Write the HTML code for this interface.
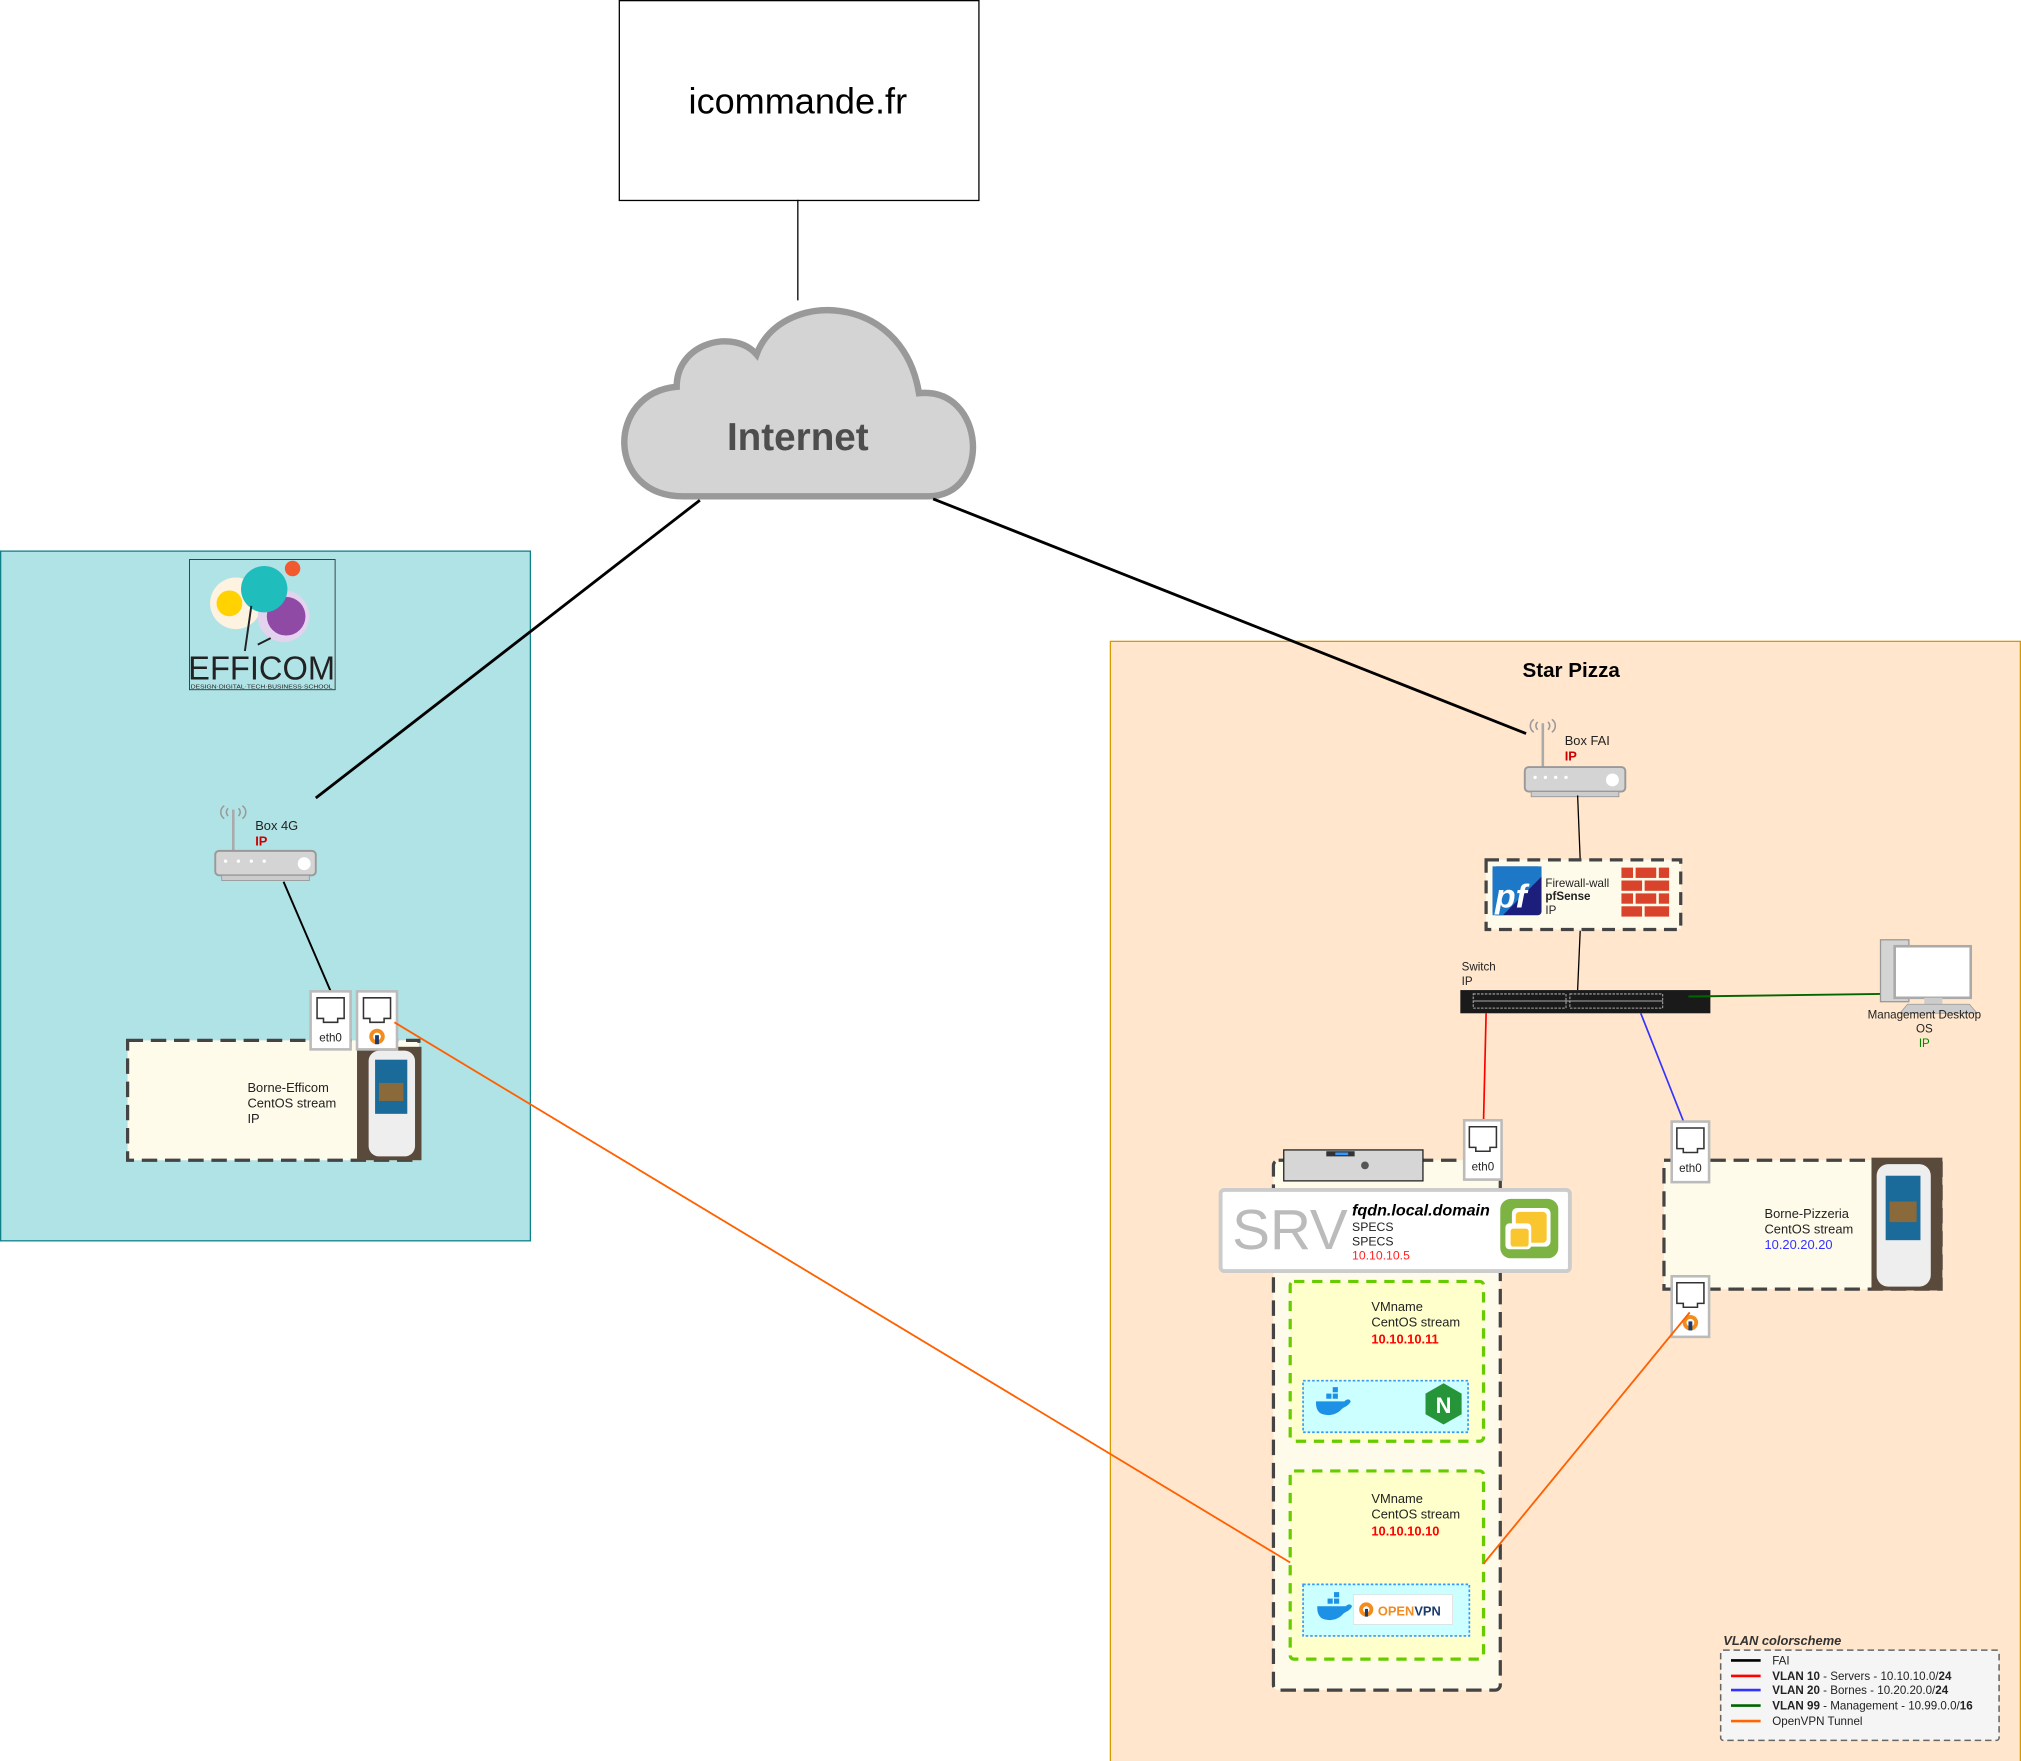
<!DOCTYPE html>
<html><head><meta charset="utf-8"><style>html,body{margin:0;padding:0;background:#fff}svg{display:block}text{font-family:"Liberation Sans",Arial,sans-serif}</style></head><body>
<svg width="2021" height="1761" viewBox="0 0 1568 1366" preserveAspectRatio="none" xmlns="http://www.w3.org/2000/svg">
<rect x="0" y="0" width="1568" height="1366" fill="#fff"/>
<!-- icommande -->
<rect x="480.5" y="0.5" width="279" height="155" fill="#fff" stroke="#000" stroke-width="1"/>
<text x="619" y="88" font-size="28" text-anchor="middle">icommande.fr</text>
<line x1="619" y1="155" x2="619" y2="233" stroke="#000" stroke-width="1"/>
<!-- cloud -->
<path d="M530,385 C470,385 470,305 525,300 C525,265 570,255 587,275 C605,225 700,225 713,305 C765,300 770,385 720,385 Z" fill="#d4d4d4" stroke="#999" stroke-width="5"/>
<text x="619" y="349" font-size="30" font-weight="bold" fill="#4d4d4d" text-anchor="middle">Internet</text>
<!-- Efficom -->
<rect x="0.5" y="427.5" width="411" height="535" fill="#b0e3e6" stroke="#0e8088"/>
<rect x="147" y="434" width="113" height="101" fill="#b0e3e6" stroke="#333" stroke-width="0.7"/>
<circle cx="183" cy="468" r="20" fill="#fdf3e0"/><circle cx="178" cy="468" r="10" fill="#ffd200"/>
<circle cx="220" cy="478" r="20" fill="#e3d3ee"/><circle cx="222" cy="478" r="15" fill="#8f4aa6"/>
<circle cx="205" cy="457" r="18" fill="#20bdbd"/><circle cx="227" cy="441" r="6" fill="#f15a30"/>
<path d="M195,470 L190,505 M210,495 L200,500" stroke="#222" stroke-width="1.5" fill="none"/>
<text x="146" y="527" font-size="26" textLength="114" lengthAdjust="spacingAndGlyphs" fill="#222">EFFICOM</text>
<text x="148" y="534" font-size="4.5" textLength="110" lengthAdjust="spacingAndGlyphs" fill="#222">DESIGN·DIGITAL·TECH·BUSINESS·SCHOOL</text>
<!-- Star Pizza -->
<rect x="861.5" y="497.5" width="706" height="869" fill="#ffe6cc" stroke="#d79b00"/>
<text x="1219" y="525" font-size="16" font-weight="bold" text-anchor="middle">Star Pizza</text>
<!-- internet links -->
<line x1="543" y1="388" x2="245" y2="619" stroke="#000" stroke-width="2.2"/>
<line x1="724" y1="387" x2="1184" y2="569" stroke="#000" stroke-width="2.2"/>
<!-- router Box4G -->
<g fill="none" stroke="#999" stroke-width="1.2"><path d="M174,625 a6,6 0 0,0 0,10 M177,627 a4,4 0 0,0 0,6 M188,625 a6,6 0 0,1 0,10 M185,627 a4,4 0 0,1 0,6"/></g>
<line x1="181" y1="628" x2="181" y2="662" stroke="#aaa" stroke-width="2"/>
<rect x="167" y="660" width="78" height="19" rx="3" fill="#d4d4d4" stroke="#999" stroke-width="1.5"/>
<rect x="172" y="679" width="68" height="4" fill="#ccc" stroke="#999" stroke-width="0.7"/>
<g fill="#fff"><circle cx="175" cy="668" r="1.3"/><circle cx="185" cy="668" r="1.3"/><circle cx="195" cy="668" r="1.3"/><circle cx="205" cy="668" r="1.3"/><circle cx="236" cy="670" r="5"/></g>
<text x="198" y="644" font-size="10" fill="#222">Box 4G</text>
<text x="198" y="656" font-size="10" font-weight="bold" fill="#c00">IP</text>
<line x1="220" y1="684" x2="257" y2="770" stroke="#000" stroke-width="1.5"/>
<!-- Borne Efficom -->
<rect x="99" y="807" width="226" height="93" fill="#fffbeb" stroke="#444" stroke-width="2.5" stroke-dasharray="12,6"/>
<text x="192" y="847" font-size="10" fill="#222">Borne-Efficom</text>
<text x="192" y="859" font-size="10" fill="#222">CentOS stream</text>
<text x="192" y="871" font-size="10" fill="#222">IP</text>
<rect x="277" y="812" width="50" height="88" fill="#5a4a3c"/>
<rect x="286" y="815" width="36" height="82" rx="8" fill="#eee"/>
<rect x="291" y="822" width="25" height="42" fill="#1a6a9a"/><rect x="294" y="840" width="19" height="14" fill="#8a6a3a"/>
<!-- ports efficom -->
<g stroke="#bbb" stroke-width="2" fill="#fff"><rect x="241" y="769" width="31" height="45"/><rect x="277" y="769" width="31" height="45"/></g>
<g fill="#fff" stroke="#333" stroke-width="1.2"><path d="M246,774 h21 v16 h-5 v3 h-11 v-3 h-5z"/><path d="M282,774 h21 v16 h-5 v3 h-11 v-3 h-5z"/></g>
<text x="256.5" y="808" font-size="9" text-anchor="middle" fill="#222">eth0</text>
<circle cx="292.5" cy="804" r="6" fill="#f28c1e"/><circle cx="292.5" cy="804" r="3" fill="#fff"/><rect x="291" y="803" width="3" height="7" fill="#1a3c6e"/>
<!-- Box FAI -->
<g fill="none" stroke="#999" stroke-width="1.2"><path d="M1190,558 a6,6 0 0,0 0,10 M1193,560 a4,4 0 0,0 0,6 M1204,558 a6,6 0 0,1 0,10 M1201,560 a4,4 0 0,1 0,6"/></g>
<line x1="1197" y1="561" x2="1197" y2="597" stroke="#aaa" stroke-width="2"/>
<rect x="1183" y="595" width="78" height="19" rx="3" fill="#d4d4d4" stroke="#999" stroke-width="1.5"/>
<rect x="1188" y="614" width="68" height="4" fill="#ccc" stroke="#999" stroke-width="0.7"/>
<g fill="#fff"><circle cx="1191" cy="603" r="1.3"/><circle cx="1199" cy="603" r="1.3"/><circle cx="1207" cy="603" r="1.3"/><circle cx="1215" cy="603" r="1.3"/><circle cx="1251" cy="605" r="5"/></g>
<text x="1214" y="578" font-size="10" fill="#222">Box FAI</text>
<text x="1214" y="590" font-size="10" font-weight="bold" fill="#c00">IP</text>
<line x1="1224" y1="617" x2="1226" y2="667" stroke="#000" stroke-width="1"/>
<!-- firewall -->
<rect x="1153" y="667" width="151" height="54" fill="#fffbeb" stroke="#444" stroke-width="2.5" stroke-dasharray="10,6"/>
<rect x="1158" y="672" width="38" height="38" rx="3" fill="#1b1e7a"/><path d="M1158,672 h38 v8 l-30,30 h-8z" fill="#1e78c8"/>
<text x="1160" y="704" font-size="26" font-style="italic" font-weight="bold" fill="#fff">pf</text>
<text x="1199" y="688" font-size="9" fill="#222">Firewall-wall</text>
<text x="1199" y="698" font-size="9" font-weight="bold" fill="#222">pfSense</text>
<text x="1199" y="709" font-size="9" fill="#222">IP</text>
<g fill="#d9432b"><rect x="1258" y="673" width="9" height="8"/><rect x="1269" y="673" width="16" height="8"/><rect x="1287" y="673" width="8" height="8"/>
<rect x="1258" y="683" width="16" height="8"/><rect x="1276" y="683" width="19" height="8"/>
<rect x="1258" y="693" width="9" height="8"/><rect x="1269" y="693" width="16" height="8"/><rect x="1287" y="693" width="8" height="8"/>
<rect x="1258" y="703" width="16" height="8"/><rect x="1276" y="703" width="19" height="8"/></g>
<line x1="1226" y1="722" x2="1224" y2="768" stroke="#000" stroke-width="1"/>
<!-- switch -->
<text x="1134" y="753" font-size="9" fill="#222">Switch</text>
<text x="1134" y="764" font-size="9" fill="#222">IP</text>
<rect x="1133" y="768" width="194" height="18" fill="#1a1a1a"/>
<rect x="1143" y="771" width="72" height="11" fill="none" stroke="#aaa" stroke-width="0.8" stroke-dasharray="2,1"/>
<rect x="1218" y="771" width="72" height="11" fill="none" stroke="#aaa" stroke-width="0.8" stroke-dasharray="2,1"/>
<line x1="1143" y1="776.5" x2="1290" y2="776.5" stroke="#aaa" stroke-width="0.8"/>
<line x1="1310" y1="773" x2="1459" y2="771" stroke="#006600" stroke-width="1.5"/>
<!-- desktop -->
<rect x="1459" y="729" width="22" height="48" fill="#d4d4d4" stroke="#999"/>
<rect x="1470" y="734" width="59" height="40" fill="#fff" stroke="#aaa" stroke-width="2"/>
<rect x="1493" y="774" width="14" height="6" fill="#ccc"/>
<path d="M1480,779 h48 l6,7 h-60z" fill="#ccc" stroke="#999" stroke-width="0.6"/>
<text x="1493" y="790" font-size="9" text-anchor="middle" fill="#222">Management Desktop</text>
<text x="1493" y="801" font-size="9" text-anchor="middle" fill="#222">OS</text>
<text x="1493" y="812" font-size="9" text-anchor="middle" fill="#080">IP</text>
<!-- vlan lines -->
<line x1="1153" y1="786" x2="1151" y2="870" stroke="#f00" stroke-width="1.3"/>
<line x1="1273" y1="786" x2="1307" y2="872" stroke="#33f" stroke-width="1.3"/>
<!-- SRV container -->
<rect x="988" y="900" width="176" height="411" rx="4" fill="#fffbeb" stroke="#444" stroke-width="2.5" stroke-dasharray="12,6"/>
<rect x="996" y="892" width="108" height="24" fill="#d6d6d6" stroke="#222" stroke-width="1"/>
<circle cx="1059" cy="904" r="3" fill="#555"/><rect x="1029" y="893" width="22" height="4" fill="#333"/><rect x="1036" y="894" width="10" height="2" fill="#39f"/>
<rect x="947" y="923" width="271" height="63" rx="3" fill="#fff" stroke="#ccc" stroke-width="3"/>
<text x="956" y="969" font-size="44" font-family="Liberation Serif,serif" fill="#bbb">SRV</text>
<text x="1049" y="943" font-size="12.5" font-style="italic" font-weight="bold" font-family="Liberation Serif,serif">fqdn.local.domain</text>
<text x="1049" y="955" font-size="9.5" fill="#222">SPECS</text>
<text x="1049" y="966" font-size="9.5" fill="#222">SPECS</text>
<text x="1049" y="977" font-size="9.5" fill="#f22">10.10.10.5</text>
<rect x="1164" y="930" width="45" height="46" rx="8" fill="#7cb342"/><rect x="1173" y="937" width="30" height="30" rx="4" fill="#fff"/>
<rect x="1176" y="940" width="24" height="24" rx="3" fill="#f9c630"/><rect x="1168" y="949" width="20" height="20" rx="3" fill="#fff"/><rect x="1172" y="953" width="14" height="14" rx="2" fill="#f9c630"/>
<!-- VM1 -->
<rect x="1001" y="994" width="150" height="124" rx="3" fill="#ffffcc" stroke="#66cc00" stroke-width="2.5" stroke-dasharray="8,6"/>
<text x="1064" y="1017" font-size="10" fill="#222">VMname</text>
<text x="1064" y="1029" font-size="10" fill="#222">CentOS stream</text>
<text x="1064" y="1042" font-size="10" font-weight="bold" fill="#f00">10.10.10.11</text>
<rect x="1011" y="1071" width="128" height="40" fill="#ccffff" stroke="#3399ff" stroke-width="1.3" stroke-dasharray="2,1.5"/>
<path d="M1021,1087 h22 c2,-2 4,-2 5,0 c-2,4 -5,4 -7,6 c-4,5 -12,6 -17,3 c-3,-3 -3,-6 -3,-9z" fill="#1d91e6"/>
<rect x="1029" y="1081" width="4" height="4" fill="#1d91e6"/><rect x="1034" y="1081" width="4" height="4" fill="#1d91e6"/><rect x="1034" y="1076" width="4" height="4" fill="#1d91e6"/>
<path d="M1120,1073 l14,8 v16 l-14,8 l-14,-8 v-16z" fill="#269539"/>
<text x="1120" y="1096" font-size="17" font-weight="bold" fill="#fff" text-anchor="middle">N</text>
<!-- VM2 -->
<rect x="1001" y="1141" width="150" height="146" rx="3" fill="#ffffcc" stroke="#66cc00" stroke-width="2.5" stroke-dasharray="8,6"/>
<text x="1064" y="1166" font-size="10" fill="#222">VMname</text>
<text x="1064" y="1178" font-size="10" fill="#222">CentOS stream</text>
<text x="1064" y="1191" font-size="10" font-weight="bold" fill="#f00">10.10.10.10</text>
<rect x="1011" y="1229" width="129" height="40" fill="#ccffff" stroke="#3399ff" stroke-width="1.3" stroke-dasharray="2,1.5"/>
<path d="M1022,1246 h22 c2,-2 4,-2 5,0 c-2,4 -5,4 -7,6 c-4,5 -12,6 -17,3 c-3,-3 -3,-6 -3,-9z" fill="#1d91e6"/>
<rect x="1030" y="1240" width="4" height="4" fill="#1d91e6"/><rect x="1035" y="1240" width="4" height="4" fill="#1d91e6"/><rect x="1035" y="1235" width="4" height="4" fill="#1d91e6"/>
<rect x="1050" y="1237" width="77" height="23" fill="#fff" stroke="#ddd" stroke-width="0.6"/>
<circle cx="1060" cy="1248.5" r="5.5" fill="#f28c1e"/><circle cx="1060" cy="1248.5" r="2.5" fill="#fff"/><rect x="1059" y="1248" width="2.4" height="6" fill="#1a3c6e"/>
<text x="1069" y="1253" font-size="10" font-weight="bold" fill="#f28c1e">OPEN<tspan fill="#1a3c6e">VPN</tspan></text>
<!-- eth0 srv -->
<rect x="1136" y="869" width="29" height="46" fill="#fff" stroke="#bbb" stroke-width="2"/>
<path d="M1140,874 h21 v16 h-5 v3 h-11 v-3 h-5z" fill="#fff" stroke="#333" stroke-width="1.2"/>
<text x="1150.5" y="908" font-size="9" text-anchor="middle" fill="#222">eth0</text>
<!-- Borne Pizzeria -->
<rect x="1291" y="900" width="215" height="100" fill="#fffbeb" stroke="#444" stroke-width="2.5" stroke-dasharray="12,6"/>
<text x="1369" y="945" font-size="10" fill="#222">Borne-Pizzeria</text>
<text x="1369" y="957" font-size="10" fill="#222">CentOS stream</text>
<text x="1369" y="969" font-size="10" fill="#33f">10.20.20.20</text>
<rect x="1452" y="898" width="55" height="103" fill="#5a4a3c"/>
<rect x="1456" y="903" width="42" height="95" rx="9" fill="#eee"/>
<rect x="1463" y="912" width="27" height="50" fill="#1a6a9a"/><rect x="1466" y="932" width="21" height="16" fill="#8a6a3a"/>
<rect x="1297" y="870" width="29" height="47" fill="#fff" stroke="#bbb" stroke-width="2"/>
<path d="M1301,875 h21 v16 h-5 v3 h-11 v-3 h-5z" fill="#fff" stroke="#333" stroke-width="1.2"/>
<text x="1311.5" y="909" font-size="9" text-anchor="middle" fill="#222">eth0</text>
<rect x="1297" y="990" width="29" height="47" fill="#fff" stroke="#bbb" stroke-width="2"/>
<path d="M1301,995 h21 v16 h-5 v3 h-11 v-3 h-5z" fill="#fff" stroke="#333" stroke-width="1.2"/>
<circle cx="1311.5" cy="1026" r="6" fill="#f28c1e"/><circle cx="1311.5" cy="1026" r="3" fill="#fff"/><rect x="1310" y="1025" width="3" height="7" fill="#1a3c6e"/>
<!-- openvpn tunnels -->
<line x1="306" y1="793" x2="1001" y2="1212" stroke="#ff6000" stroke-width="1.4"/>
<line x1="1311" y1="1018" x2="1151" y2="1213" stroke="#ff6000" stroke-width="1.4"/>
<!-- legend -->
<text x="1337" y="1276" font-size="10" font-style="italic" font-weight="bold" fill="#333">VLAN colorscheme</text>
<rect x="1335" y="1280" width="216" height="70" rx="2" fill="#f5f5f5" stroke="#666" stroke-width="1.2" stroke-dasharray="5,3"/>
<g stroke-width="2"><line x1="1343" y1="1288" x2="1366" y2="1288" stroke="#000"/><line x1="1343" y1="1300" x2="1366" y2="1300" stroke="#f00"/><line x1="1343" y1="1311" x2="1366" y2="1311" stroke="#33f"/><line x1="1343" y1="1323" x2="1366" y2="1323" stroke="#060"/><line x1="1343" y1="1335" x2="1366" y2="1335" stroke="#f60"/></g>
<g font-size="9" fill="#222">
<text x="1375" y="1291">FAI</text>
<text x="1375" y="1303"><tspan font-weight="bold">VLAN 10</tspan> - Servers - 10.10.10.0/<tspan font-weight="bold">24</tspan></text>
<text x="1375" y="1314"><tspan font-weight="bold">VLAN 20</tspan> - Bornes - 10.20.20.0/<tspan font-weight="bold">24</tspan></text>
<text x="1375" y="1326"><tspan font-weight="bold">VLAN 99</tspan> - Management - 10.99.0.0/<tspan font-weight="bold">16</tspan></text>
<text x="1375" y="1338">OpenVPN Tunnel</text>
</g>
</svg>
</body></html>
